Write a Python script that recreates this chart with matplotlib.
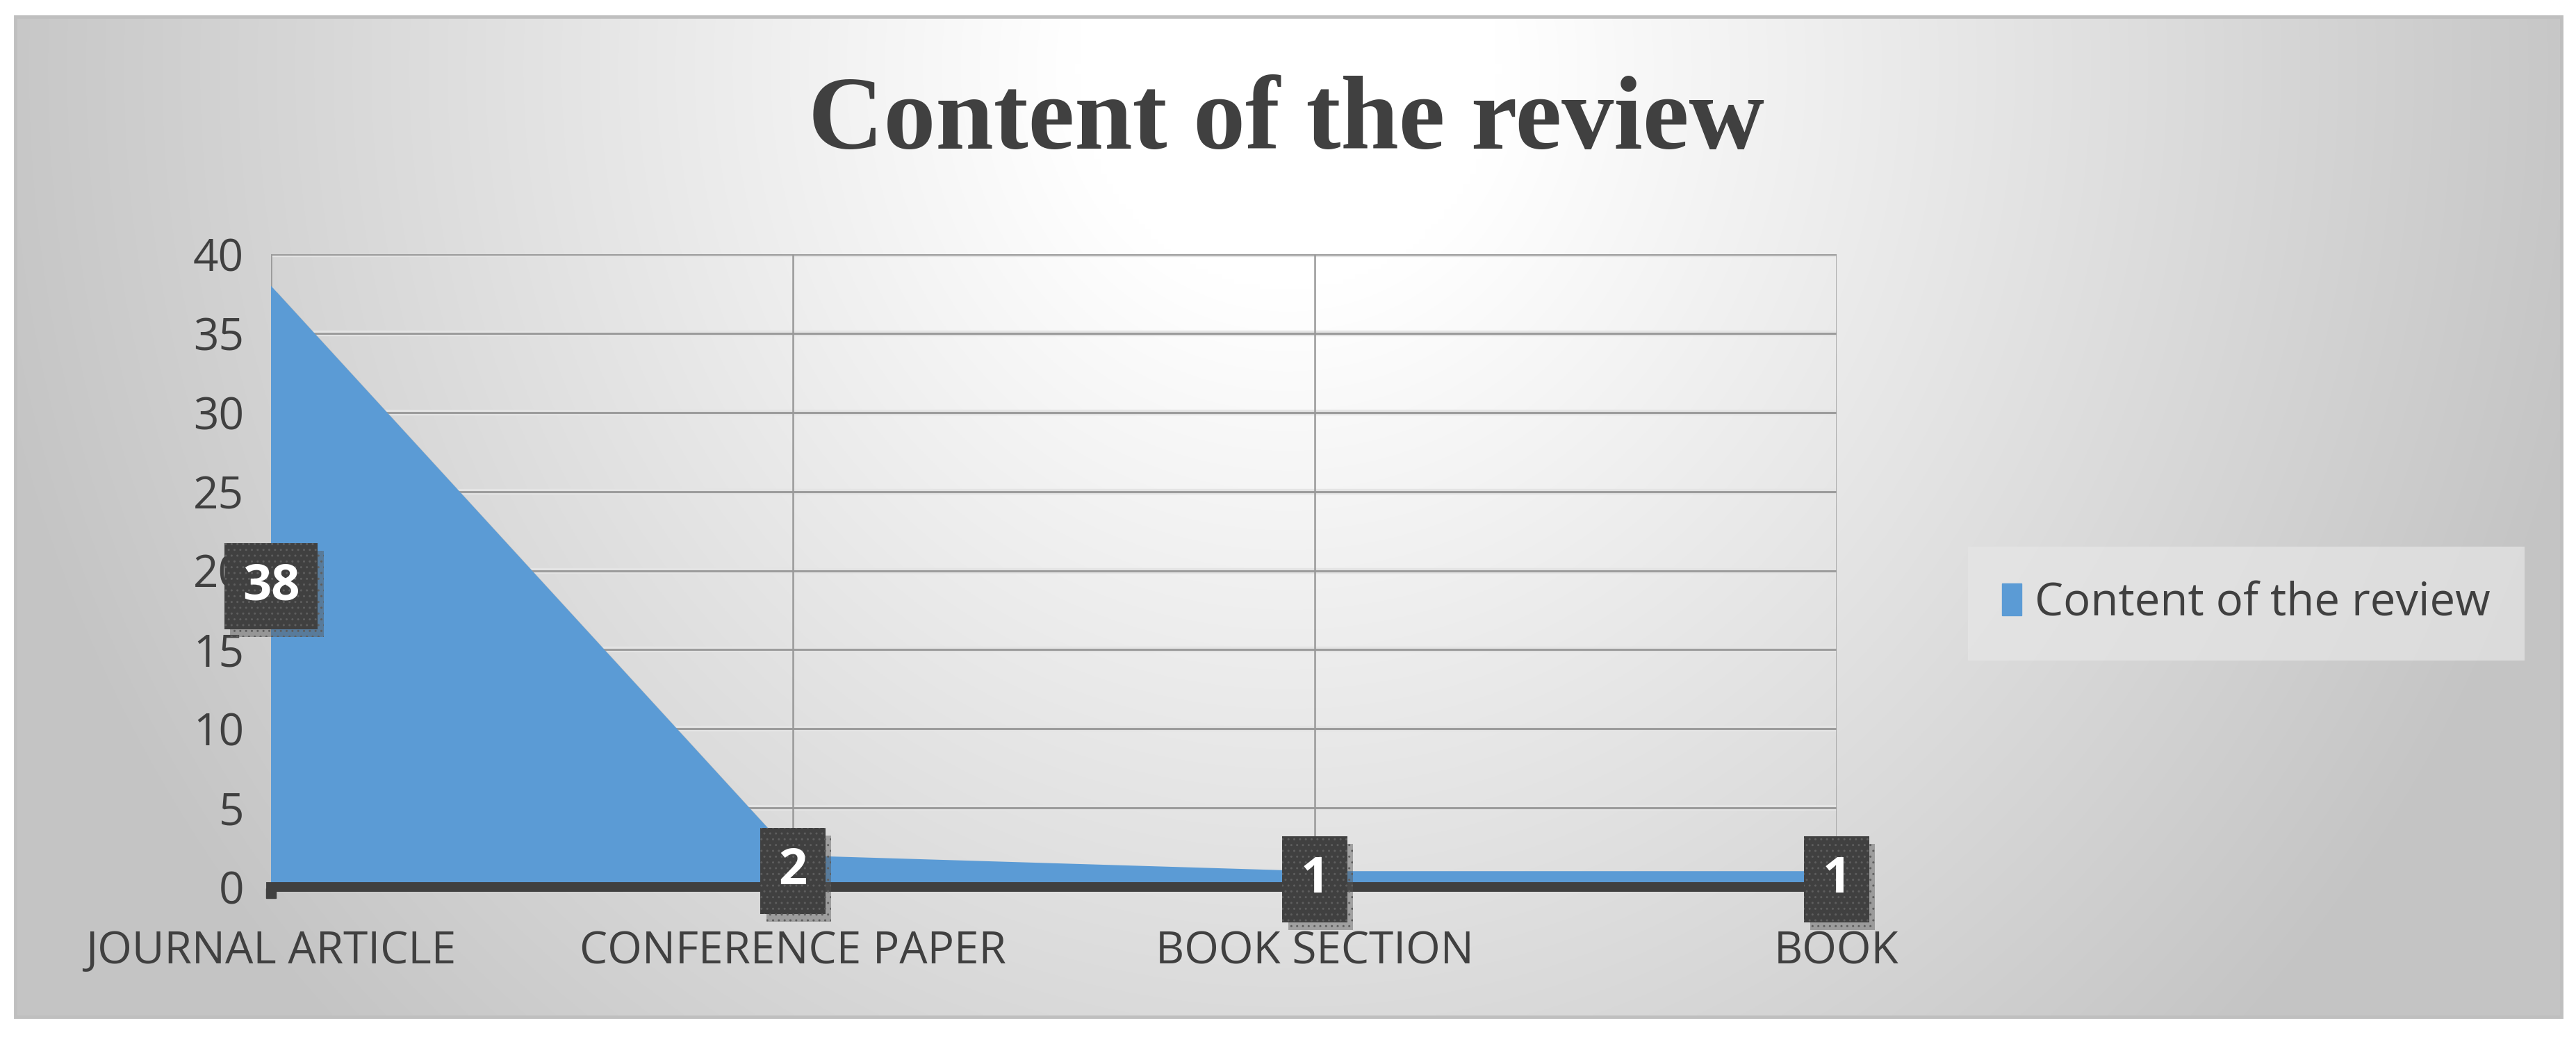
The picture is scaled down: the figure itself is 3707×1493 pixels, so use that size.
import numpy as np
import matplotlib.pyplot as plt
import matplotlib.patheffects as pe
from matplotlib.patches import Rectangle

categories = ['JOURNAL ARTICLE', 'CONFERENCE PAPER', 'BOOK SECTION', 'BOOK']
values = [38, 2, 1, 1]
yticks = [0, 5, 10, 15, 20, 25, 30, 35, 40]
series_name = 'Content of the review'

W, H = 3707, 1493
fig = plt.figure(figsize=(W / 100, H / 100), dpi=100)
fig.patch.set_facecolor('white')

# background: radial-ish grey gradient inside a framed box
bg = fig.add_axes([0, 0, 1, 1], zorder=-10)
bg.set_xlim(0, W)
bg.set_ylim(H, 0)
bg.axis('off')
xx, yy = np.meshgrid(np.linspace(0, 1, 400), np.linspace(0, 1, 200))
d = np.sqrt(((xx - 0.5) / 0.6) ** 2 + ((yy - 0.05) / 1.6) ** 2)
shade = 1 - 0.22 * np.clip(d - 0.14, 0, 1) / 0.7
shade = np.clip(shade, 0.77, 1.0)
img = np.dstack([shade, shade, shade])
bg.imshow(img, extent=[22, 3686, 1464, 24], aspect='auto', interpolation='bilinear')
bg.add_patch(Rectangle((22, 24), 3664, 1440, fill=False, edgecolor='#BFBFBF', lw=3.5))

ax = fig.add_axes([390 / W, 216 / H, (2643 - 390) / W, (1277 - 366) / H])
ax.patch.set_alpha(0)
x = np.arange(len(categories))
ax.set_xlim(0, len(categories) - 1)
ax.set_ylim(0, 40)

# gridlines with a slight 3D shadow
for yv in yticks[1:]:
    ax.axhline(yv, color='#E4E4E4', lw=6, zorder=0.5)
    ax.axhline(yv, color='#9C9C9C', lw=2.2, zorder=0.6)
for xv in x:
    ax.axvline(xv, color='#999999', lw=1.8, zorder=0.6)

ax.fill_between(x, values, 0, color='#5B9BD5', lw=0, zorder=2,
                path_effects=[pe.SimplePatchShadow(offset=(6, -6), shadow_rgbFace='#9a9a9a', alpha=0.35), pe.Normal()])

ax.axhline(0, color='#404040', lw=10, zorder=3, clip_on=False)
for s in ax.spines.values():
    s.set_visible(False)

ax.set_yticks(yticks)
ax.set_yticklabels([str(v) for v in yticks], fontsize=46, color='#404040', family='Open Sans')
ax.tick_params(axis='y', length=0, pad=28)
ax.set_xticks(x)
ax.set_xticklabels(categories, fontsize=46, color='#404040', family='Open Sans')
ax.tick_params(axis='x', length=0, pad=44)
ax.plot([0], [-0.4], marker='s', ms=10, color='#404040', clip_on=False, zorder=4)

for xi, v in zip(x, values):
    t = ax.text(xi, v / 2, str(v), fontsize=52, fontweight='bold', color='white',
                family='Open Sans', ha='center', va='center', zorder=6,
                bbox=dict(boxstyle='square,pad=0.36', facecolor='#404040',
                          edgecolor='#5E5E5E', hatch='..', lw=0))
    t.get_bbox_patch().set_path_effects([
        pe.SimplePatchShadow(offset=(6, -8), shadow_rgbFace='#555555', alpha=0.45),
        pe.Normal()])

fig.text(0.4993, 0.881, 'Content of the review', fontsize=108, fontweight='bold',
         color='#404040', family='Liberation Serif', ha='center', va='center')

leg = fig.legend([Rectangle((0, 0), 1, 1, color='#5B9BD5')], [series_name],
                 loc='center left', bbox_to_anchor=(0.764, 0.418),
                 prop={'family': 'Open Sans', 'size': 47}, frameon=True, fancybox=False,
                 handlelength=0.42, handleheight=0.7, handletextpad=0.3,
                 borderpad=0.75, borderaxespad=0)
leg.get_frame().set_facecolor('#E6E6E6')
leg.get_frame().set_alpha(0.7)
leg.get_frame().set_linewidth(0)
for txt in leg.get_texts():
    txt.set_color('#404040')

plt.savefig('out.png', dpi=100)
